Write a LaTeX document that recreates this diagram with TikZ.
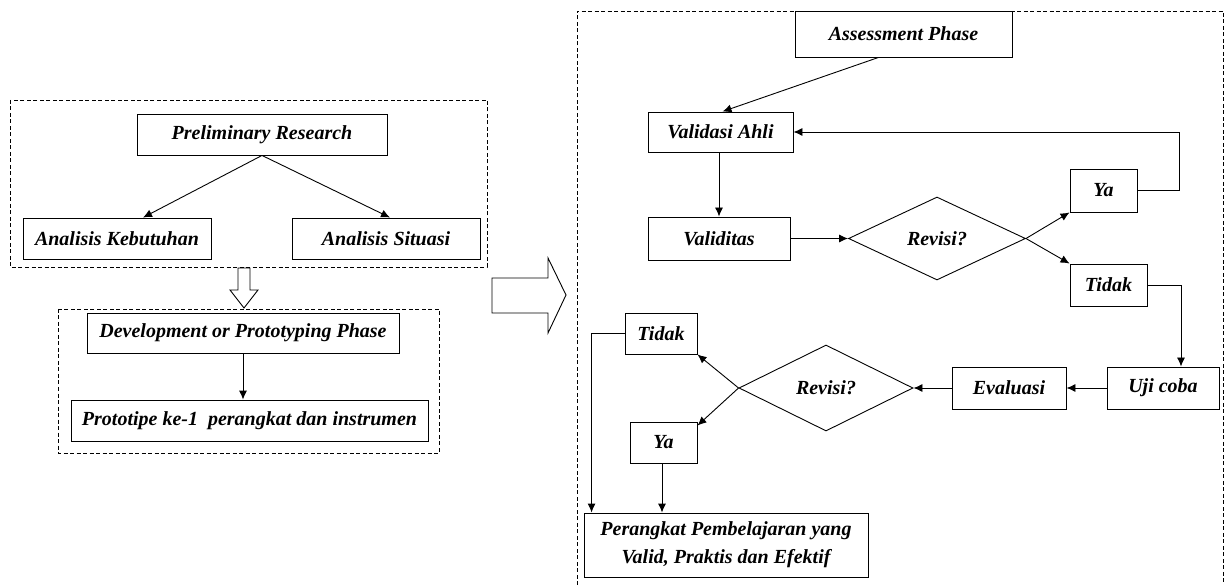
\documentclass[tikz,border=0pt]{standalone}
\usepackage{fontspec}
\setmainfont{Liberation Serif}
\usepackage{tikz}
\usetikzlibrary{arrows.meta, shapes.geometric, calc}

\begin{document}
\begin{tikzpicture}[x=1pt, y=-1pt, line width=0.9pt,
        >={Latex[length=9pt, width=8pt]},
        box/.style={draw, rectangle, inner sep=2pt, font=\bfseries\itshape\fontsize{20}{24}\selectfont},
        decision/.style={draw, diamond, aspect=2.1, inner sep=0pt, font=\bfseries\itshape\fontsize{20}{24}\selectfont},
        frame/.style={dash pattern=on 4pt off 2.5pt, line width=0.9pt}]
        \useasboundingbox (0,0) rectangle (1224,585);

        \draw[frame] (10,100) rectangle (487,267);
        \draw[frame] (58,309) rectangle (439,453);
        \draw[frame] (577,585) -- (577,11) -- (1223,11) -- (1223,585);

        \node[box, minimum width=250, minimum height=41] (prelim) at (262,134.5) {Preliminary Research};
        \node[box, minimum width=188, minimum height=41] (kebutuhan) at (117,238.5) {Analisis Kebutuhan};
        \node[box, minimum width=188, minimum height=41] (situasi) at (386,238.5) {Analisis Situasi};
        \node[box, minimum width=312, minimum height=40] (develop) at (243,333) {Development or Prototyping Phase};
        \node[box, minimum width=357, minimum height=41] (prototipe) at (249.5,420.5) {Prototipe ke-1~ perangkat dan instrumen};

        \node[box, minimum width=217, minimum height=46] (assess) at (903.5,34) {Assessment Phase};
        \node[box, minimum width=145, minimum height=40] (valahli) at (720.5,132) {Validasi Ahli};
        \node[box, minimum width=142, minimum height=43] (validitas) at (719,238.5) {Validitas};
        \node[decision, minimum width=177, minimum height=83] (revisiA) at (937,238.5) {Revisi?};
        \node[box, minimum width=67, minimum height=43] (yaA) at (1103.5,190.5) {Ya};
        \node[box, minimum width=77, minimum height=42] (tidakA) at (1108.5,285) {Tidak};
        \node[box, minimum width=112, minimum height=42] (ujicoba) at (1163,388) {Uji coba};
        \node[box, minimum width=114, minimum height=42] (evaluasi) at (1009,388) {Evaluasi};
        \node[decision, minimum width=174, minimum height=86] (revisiB) at (826,388) {Revisi?};
        \node[box, minimum width=72, minimum height=41] (tidakB) at (661,333.5) {Tidak};
        \node[box, minimum width=67, minimum height=41] (yaB) at (663.5,442.5) {Ya};
        \node[box, minimum width=284, minimum height=64, align=center,
              font=\bfseries\itshape\fontsize{20}{28}\selectfont] (hasil) at (726,545)
              {Perangkat Pembelajaran yang\\Valid, Praktis dan Efektif};

        \draw[->] (prelim.south) -- ([xshift=26]kebutuhan.north);
        \draw[->] (prelim.south) -- ([xshift=4]situasi.north);
        \draw[->] (develop.south) -- (develop.south |- prototipe.north);

        \draw[->] ([xshift=-25]assess.south) -- ([xshift=2]valahli.north);
        \draw[->] ([xshift=-1.5]valahli.south) -- ([xshift=-1.5]valahli.south |- validitas.north);
        \draw[->] (validitas.east) -- (revisiA.west);
        \draw[->] (revisiA.east) -- (yaA.south west);
        \draw[->] (revisiA.east) -- (tidakA.north west);
        \draw[->] (yaA.east) -- ++(42,0) |- (valahli.east);
        \draw[->] (tidakA.east) -| ([xshift=18]ujicoba.north);
        \draw[->] (ujicoba.west) -- (evaluasi.east);
        \draw[->] (evaluasi.west) -- (revisiB.east);
        \draw[->] (revisiB.west) -- (tidakB.south east);
        \draw[->] (revisiB.west) -- ([yshift=-4]yaB.north east);
        \draw[->] (tidakB.west) -| ([xshift=8]hasil.north west);
        \draw[->] ([xshift=-1.5]yaB.south) -- ([xshift=-1.5]yaB.south |- hasil.north);

        \draw (238,268) -- (250,268) -- (250,290) -- (258,290) -- (244,308) -- (230,290) -- (238,290) -- cycle;
        \draw (492,278) -- (548,278) -- (548,258) -- (566,295) -- (548,333) -- (548,313) -- (492,313) -- cycle;
\end{tikzpicture}
\end{document}
